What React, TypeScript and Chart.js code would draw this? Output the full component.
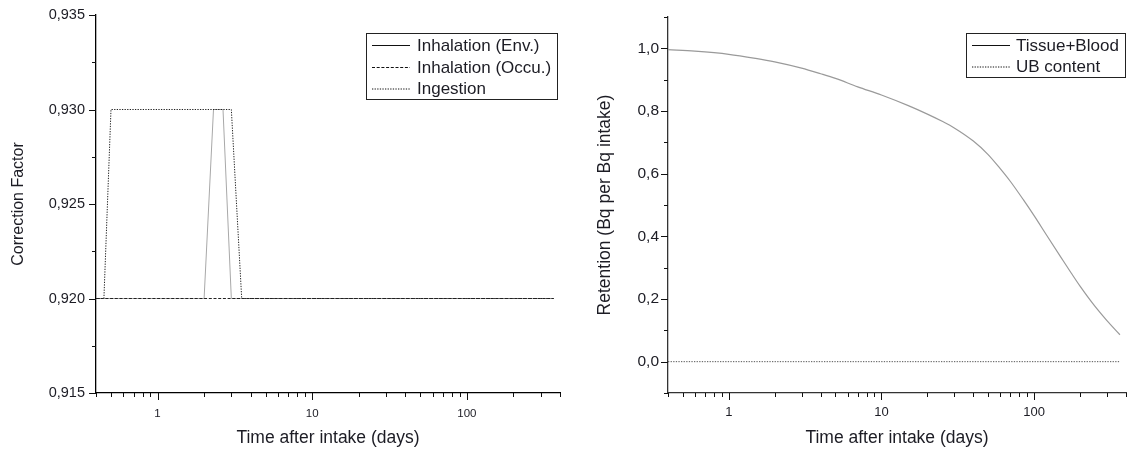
import { useEffect, useRef } from 'react';
import { Chart, registerables } from 'chart.js';

Chart.register(...registerables);

const FONT = '"Liberation Sans", Arial, Helvetica, sans-serif';
const TEXT = '#1c1c24';
const AXIS = '#111';

// ---- shared x axis (log, days) ----
const X_MIN = 0.4;
const X_MAX = 400;
const X_TICKS = [0.4, 0.5, 0.6, 0.7, 0.8, 0.9, 1, 2, 3, 4, 5, 6, 7, 8, 9, 10, 20, 30, 40, 50, 60, 70, 80, 90, 100, 200, 300, 400];
const X_LABELS = [1, 10, 100];

// ---- left panel: correction factor ----
const CF_ENV_X = [0.4, 2.0, 2.3, 2.65, 3.0, 365];
const CF_ENV_Y = [0.92, 0.92, 0.93, 0.93, 0.92, 0.92];
const CF_OCC_X = [0.4, 365];
const CF_OCC_Y = [0.92, 0.92];
const CF_ING_X = [0.4, 0.45, 0.5, 3.0, 3.5, 365];
const CF_ING_Y = [0.92, 0.92, 0.93, 0.93, 0.92, 0.92];
const CF_LABELS = ['Inhalation (Env.)', 'Inhalation (Occu.)', 'Ingestion'];

// ---- right panel: retention ----
const RET_X = [0.4, 0.6, 1, 1.5, 2, 3, 4, 5, 7, 10, 15, 20, 25, 30, 40, 50, 60, 70, 85, 100, 120, 150, 175, 200, 250, 300, 365];
const RET_TISSUE = [0.996, 0.991, 0.981, 0.968, 0.957, 0.937, 0.919, 0.904, 0.877, 0.851, 0.817, 0.79, 0.767, 0.746, 0.704, 0.661, 0.616, 0.575, 0.517, 0.466, 0.406, 0.333, 0.283, 0.241, 0.177, 0.131, 0.086];
const RET_UB_X = [0.4, 365];
const RET_UB = [0, 0];
const RET_LABELS = ['Tissue+Blood', 'UB content'];

const pts = (xs: number[], ys: number[]) => xs.map((x, i) => ({ x, y: ys[i] }));

const SOLID: number[] = [];
const DASHED = [3, 1.7];
const DOTTED = [1.3, 1.3];

type LegendSpec = {
  box: [number, number, number, number];
  rowY: number[];
  sx0: number;
  sx1: number;
  tx: number;
  size: number;
  dashes: number[][];
  labels: string[];
};

function tickMarksPlugin() {
  return {
    id: 'tickMarks',
    afterDraw(chart: any) {
      const ctx = chart.ctx;
      const xs = chart.scales.x;
      const ys = chart.scales.y;
      ctx.save();
      ctx.strokeStyle = AXIS;
      ctx.lineWidth = 1;
      ctx.beginPath();
      xs.ticks.forEach((t: any) => {
        const p = Math.round(xs.getPixelForValue(t.value)) + 0.5;
        const len = t.label ? 7 : 4;
        ctx.moveTo(p, xs.top);
        ctx.lineTo(p, xs.top + len);
      });
      ys.ticks.forEach((t: any) => {
        const p = Math.round(ys.getPixelForValue(t.value)) + 0.5;
        const len = t.label ? 7 : 4;
        ctx.moveTo(ys.right, p);
        ctx.lineTo(ys.right - len, p);
      });
      ctx.stroke();
      ctx.restore();
    },
  };
}

function legendPlugin(spec: LegendSpec) {
  return {
    id: 'boxLegend',
    afterDraw(chart: any) {
      const ctx = chart.ctx;
      const [x, y, w, h] = spec.box;
      ctx.save();
      ctx.fillStyle = '#fff';
      ctx.fillRect(x, y, w, h);
      ctx.strokeStyle = '#222';
      ctx.lineWidth = 1;
      ctx.setLineDash([]);
      ctx.strokeRect(x + 0.5, y + 0.5, w, h);
      ctx.font = `${spec.size}px ${FONT}`;
      ctx.textBaseline = 'middle';
      ctx.textAlign = 'left';
      spec.labels.forEach((lab, i) => {
        const ry = spec.rowY[i];
        ctx.strokeStyle = '#111';
        ctx.lineWidth = 1;
        ctx.setLineDash(spec.dashes[i]);
        ctx.beginPath();
        ctx.moveTo(spec.sx0, ry + 0.5);
        ctx.lineTo(spec.sx1, ry + 0.5);
        ctx.stroke();
        ctx.setLineDash([]);
        ctx.fillStyle = TEXT;
        ctx.fillText(lab, spec.tx, ry + 1);
      });
      ctx.restore();
    },
  };
}

type AxisSpec = {
  yMin: number;
  yMax: number;
  yStep: number;
  yLabel: (v: number) => string;
  yTitle: string;
  yTitleSize: number;
  yTitlePad: number;
  yTickSize: number;
  yTickPad: number;
  yWidth: number;
  xTickSize: number;
  xTickPad: number;
  xHeight: number;
  top: number;
  right: number;
  axisColor: string;
};

function buildOptions(a: AxisSpec): any {
  return {
    responsive: false,
    maintainAspectRatio: false,
    animation: false,
    events: [],
    layout: { padding: { left: 0, right: a.right, top: a.top, bottom: 0 } },
    plugins: { legend: { display: false }, tooltip: { enabled: false } },
    elements: { point: { radius: 0 }, line: { borderCapStyle: 'butt' } },
    scales: {
      x: {
        type: 'logarithmic',
        min: X_MIN,
        max: X_MAX,
        afterBuildTicks: (scale: any) => {
          scale.ticks = X_TICKS.map((v) => ({ value: v }));
        },
        afterFit: (scale: any) => {
          scale.height = a.xHeight;
        },
        grid: { display: true, drawOnChartArea: false, drawTicks: true, tickLength: 7, tickColor: 'rgba(0,0,0,0)' },
        border: { display: true, color: a.axisColor, width: 1.3 },
        ticks: {
          autoSkip: false,
          maxRotation: 0,
          minRotation: 0,
          padding: a.xTickPad,
          color: TEXT,
          font: { family: FONT, size: a.xTickSize },
          callback: (v: any) => (X_LABELS.includes(Number(v)) ? String(v) : ''),
        },
        title: {
          display: true,
          text: 'Time after intake (days)',
          color: TEXT,
          font: { family: FONT, size: 17.5 },
          padding: { top: 0, bottom: 3.5 },
        },
      },
      y: {
        type: 'linear',
        min: a.yMin,
        max: a.yMax,
        afterFit: (scale: any) => {
          scale.width = a.yWidth;
        },
        grid: { display: true, drawOnChartArea: false, drawTicks: true, tickLength: 7, tickColor: 'rgba(0,0,0,0)' },
        border: { display: true, color: a.axisColor, width: 1.3 },
        ticks: {
          stepSize: a.yStep,
          autoSkip: false,
          padding: a.yTickPad,
          color: TEXT,
          font: { family: FONT, size: a.yTickSize },
          callback: (v: any) => a.yLabel(Number(v)),
        },
        title: {
          display: true,
          text: a.yTitle,
          color: TEXT,
          font: { family: FONT, size: a.yTitleSize },
          padding: { top: a.yTitlePad, bottom: 0 },
        },
      },
    },
  };
}

function useChart(ref: React.RefObject<HTMLCanvasElement | null>, make: () => any) {
  useEffect(() => {
    if (!ref.current) return;
    const chart = new Chart(ref.current, make());
    return () => chart.destroy();
  }, []);
}

export default function App() {
  const leftRef = useRef<HTMLCanvasElement | null>(null);
  const rightRef = useRef<HTMLCanvasElement | null>(null);

  useChart(leftRef, () => ({
    type: 'line',
    data: {
      datasets: [
        {
          label: CF_LABELS[0],
          data: pts(CF_ENV_X, CF_ENV_Y),
          borderColor: '#a8a8a8',
          borderWidth: 1,
          borderDash: SOLID,
          tension: 0,
          order: 3,
        },
        {
          label: CF_LABELS[1],
          data: pts(CF_OCC_X, CF_OCC_Y),
          borderColor: '#222',
          borderWidth: 1,
          borderDash: DASHED,
          tension: 0,
          order: 1,
        },
        {
          label: CF_LABELS[2],
          data: pts(CF_ING_X, CF_ING_Y),
          borderColor: '#222',
          borderWidth: 1,
          borderDash: DOTTED,
          tension: 0,
          order: 2,
        },
      ],
    },
    options: buildOptions({
      yMin: 0.915,
      yMax: 0.935,
      yStep: 0.0025,
      yLabel: (v) => (Math.round(v * 10000) % 50 === 0 ? v.toFixed(3).replace('.', ',') : ''),
      yTitle: 'Correction Factor',
      yTitleSize: 16,
      yTitlePad: 9,
      yTickSize: 14.5,
      yTickPad: 4,
      yWidth: 96,
      xTickSize: 11.5,
      xTickPad: 7,
      xHeight: 59,
      top: 15,
      right: 20,
      axisColor: '#000',
    }),
    plugins: [
      tickMarksPlugin(),
      legendPlugin({
        box: [366, 33, 191, 66],
        rowY: [45, 67, 88.5],
        sx0: 372,
        sx1: 410,
        tx: 417,
        size: 17,
        dashes: [SOLID, DASHED, DOTTED],
        labels: CF_LABELS,
      }),
    ],
  }));

  useChart(rightRef, () => ({
    type: 'line',
    data: {
      datasets: [
        {
          label: RET_LABELS[0],
          data: pts(RET_X, RET_TISSUE),
          borderColor: '#9a9a9a',
          borderWidth: 1.2,
          borderDash: SOLID,
          cubicInterpolationMode: 'monotone',
        },
        {
          label: RET_LABELS[1],
          data: pts(RET_UB_X, RET_UB),
          borderColor: '#555',
          borderWidth: 1,
          borderDash: DOTTED,
          tension: 0,
        },
      ],
    },
    options: buildOptions({
      yMin: -0.1,
      yMax: 1.1,
      yStep: 0.1,
      yLabel: (v) => {
        const k = Math.round(v * 10);
        return k >= 0 && k <= 10 && k % 2 === 0 ? (k / 10).toFixed(1).replace('.', ',') : '';
      },
      yTitle: 'Retention (Bq per Bq intake)',
      yTitleSize: 17.5,
      yTitlePad: 15,
      yTickSize: 15.5,
      yTickPad: 2,
      yWidth: 88,
      xTickSize: 13,
      xTickPad: 5,
      xHeight: 59,
      top: 17,
      right: 0,
      axisColor: '#333',
    }),
    plugins: [
      tickMarksPlugin(),
      legendPlugin({
        box: [386, 33, 159, 44],
        rowY: [45, 66.5],
        sx0: 392,
        sx1: 430,
        tx: 436,
        size: 17,
        dashes: [SOLID, DOTTED],
        labels: RET_LABELS,
      }),
    ],
  }));

  return (
    <div
      style={{
        position: 'absolute',
        left: 0,
        top: 0,
        width: 1131,
        height: 452,
        overflow: 'hidden',
        background: '#fff',
      }}
    >
      <canvas ref={leftRef} width={580} height={452} style={{ position: 'absolute', left: 0, top: 0 }} />
      <canvas ref={rightRef} width={551} height={452} style={{ position: 'absolute', left: 580, top: 0 }} />
    </div>
  );
}
